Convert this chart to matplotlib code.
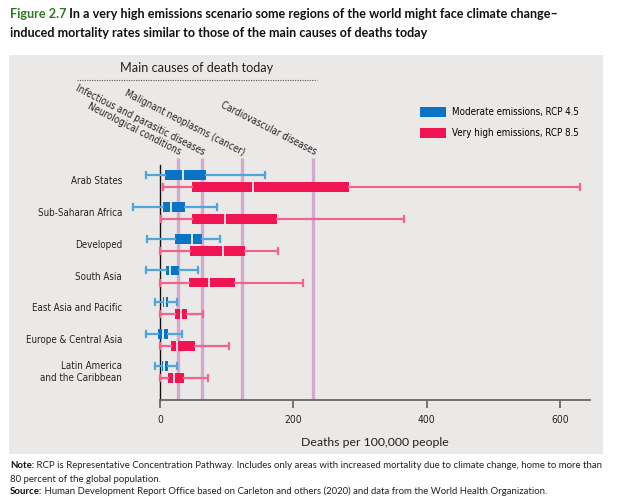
import matplotlib
matplotlib.use("Agg")
import matplotlib.pyplot as plt
from matplotlib import font_manager as fm
from matplotlib.patches import Rectangle, Patch
from matplotlib.lines import Line2D

# ---- data (deaths per 100,000 people) ----
regions = ["Arab States", "Sub-Saharan Africa", "Developed", "South Asia",
           "East Asia and Pacific", "Europe & Central Asia",
           "Latin America\nand the Caribbean"]

rcp45_lo = [-21, -41, -19, -21, -7, -21, -7.5]
rcp45_q1 = [7.5, 4.5, 22.5, 9, 4, -3, 2.5]
rcp45_med = [35, 16.5, 48, 15.5, 8, 4.5, 6.5]
rcp45_q3 = [68.5, 37.5, 63, 28.5, 12.5, 11.5, 11.5]
rcp45_hi = [157.5, 85.5, 90.5, 57, 25, 32.5, 25]

rcp85_lo = [5, 1, 0.5, 0.5, 0.5, 0.5, 0.5]
rcp85_q1 = [48.5, 48.5, 45, 43.5, 22.5, 16.5, 12]
rcp85_med = [140, 97.5, 95, 73, 31, 25.5, 20.5]
rcp85_q3 = [283.5, 175.5, 127.5, 112.5, 40.5, 52.5, 36]
rcp85_hi = [630, 366, 177.5, 214, 65, 103, 71.5]

causes = ["Neurological conditions", "Infectious and parasitic diseases",
          "Malignant neoplasms (cancer)", "Cardiovascular diseases"]
cause_vals = [27.5, 63.5, 123.5, 230]

xticks = [0, 200, 400, 600]

BLUE = "#0a73c5"
BLUE_W = "#4fa5dc"
RED = "#ee1552"
RED_W = "#ef6590"
LINE = "#d3a9cf"
BG = "#ebe9e7"


def narrow_font():
    # look for a condensed / narrow face among installed fonts
    best = None
    for f in fm.fontManager.ttflist:
        nm = f.name.lower()
        cond = ("condensed" in str(f.stretch) or "narrow" in nm
                or "condensed" in nm)
        if not cond or f.style != "normal":
            continue
        if f.weight not in (400, "normal", "regular", "book"):
            continue
        if "extra" in str(f.stretch) or "ultra" in str(f.stretch):
            continue
        best = f.fname
        if "semi" not in str(f.stretch):
            break
    if best:
        return best
    return None


def cprop(size):
    fn = narrow_font()
    if fn:
        return fm.FontProperties(fname=fn, size=size)
    return fm.FontProperties(family="DejaVu Sans", stretch="condensed", size=size)


def make_stats(lo, q1, med, q3, hi):
    out = []
    for i in range(len(lo)):
        out.append({"whislo": lo[i], "q1": q1[i], "med": med[i],
                    "q3": q3[i], "whishi": hi[i], "fliers": []})
    return out


fig = plt.figure(figsize=(6.17, 5.03), dpi=100)
W, H = 617.0, 503.0

fig.add_artist(Rectangle((9 / W, 1 - 454 / H), 594 / W, 399 / H,
                         transform=fig.transFigure, facecolor=BG,
                         edgecolor="none", zorder=-5))

ax = fig.add_axes([120 / W, 1 - 400 / H, 470 / W, 243 / H])
ax.set_facecolor("none")
ax.set_xlim(-60, 645)
ax.set_ylim(6.88, -0.755)

pos = list(range(len(regions)))
off = 0.19

ax.vlines(cause_vals, 6.88, -0.72, color=LINE, lw=2.4, zorder=1)

for stats, shift, col, wcol in [
        (make_stats(rcp45_lo, rcp45_q1, rcp45_med, rcp45_q3, rcp45_hi), -off, BLUE, BLUE_W),
        (make_stats(rcp85_lo, rcp85_q1, rcp85_med, rcp85_q3, rcp85_hi), off, RED, RED_W)]:
    ax.bxp(stats, positions=[p + shift for p in pos], widths=0.31,
           orientation="horizontal", patch_artist=True, manage_ticks=False,
           capwidths=0.19, showfliers=False,
           boxprops=dict(facecolor=col, edgecolor="none"),
           medianprops=dict(color="white", lw=1.2),
           whiskerprops=dict(color=wcol, lw=1.6),
           capprops=dict(color=wcol, lw=1.6),
           zorder=3)

for p, name in zip(pos, regions):
    ax.text(-57, p, name, ha="right", va="center", fontproperties=cprop(7.0),
            color="#222222", linespacing=1.25)

for v, name in zip(cause_vals, causes):
    ax.text(v + 1, -0.80, name, rotation=-27, rotation_mode="anchor",
            ha="right", va="baseline", fontproperties=cprop(7.0),
            color="#222222")

for s in ["top", "right"]:
    ax.spines[s].set_visible(False)
ax.spines["left"].set_position(("data", 0))
ax.spines["left"].set_bounds(6.88, -0.5)
ax.spines["left"].set_color("#111111")
ax.spines["left"].set_linewidth(1.0)
ax.spines["bottom"].set_bounds(0, 645)
ax.spines["bottom"].set_color("#666666")
ax.spines["bottom"].set_linewidth(1.3)
ax.set_yticks([])
ax.set_xticks(xticks)
ax.set_xticklabels([str(t) for t in xticks])
ax.tick_params(axis="x", direction="out", length=6, width=1.1,
               color="#555555", pad=5)
for lab in ax.get_xticklabels():
    lab.set_fontproperties(cprop(7.4))
    lab.set_color("#222222")

fig.text(375 / W, 1 - 442 / H, "Deaths per 100,000 people", ha="center",
         va="center", fontsize=8.8, family="Lato", color="#222222")

fig.text(197 / W, 1 - 68 / H, "Main causes of death today", ha="center",
         va="center", fontsize=9.1, family="Lato", color="#222222")
fig.add_artist(Line2D([77 / W, 317 / W], [1 - 80 / H, 1 - 80 / H],
                      transform=fig.transFigure, color="#555555",
                      lw=0.8, ls=(0, (1, 1.2))))

handles = [Patch(facecolor=BLUE, edgecolor="none", label="Moderate emissions, RCP 4.5"),
           Patch(facecolor=RED, edgecolor="none", label="Very high emissions, RCP 8.5")]
fig.legend(handles=handles, loc="upper left",
           bbox_to_anchor=(420 / W, 1 - 107 / H), frameon=False,
           prop=cprop(7.0),
           handlelength=2.7, handleheight=1.2, labelspacing=1.1,
           handletextpad=0.6, borderaxespad=0, borderpad=0)

# title
t1 = fig.text(10 / W, 1 - 14 / H, "Figure 2.7", ha="left", va="center",
              fontsize=9.1, weight="bold", family="Lato", color="#2f7a1f")
ax.annotate(" In a very high emissions scenario some regions of the world might face climate change\u2013",
            xy=(1, 0), xycoords=t1, ha="left", va="bottom",
            fontsize=9.1, weight="bold", family="Lato", color="#111111")
fig.text(10 / W, 1 - 33 / H,
         "induced mortality rates similar to those of the main causes of deaths today",
         ha="left", va="center", fontsize=9.1, weight="bold", family="Lato",
         color="#111111")

# notes
n1 = fig.text(10 / W, 1 - 466 / H, "Note:", ha="left", va="center",
              fontsize=6.95, weight="bold", family="Lato", color="#111111")
ax.annotate(" RCP is Representative Concentration Pathway. Includes only areas with increased mortality due to climate change, home to more than",
            xy=(1, 0), xycoords=n1, ha="left", va="bottom", fontsize=6.95,
            family="Lato", color="#222222")
fig.text(10 / W, 1 - 479 / H, "80 percent of the global population.",
         ha="left", va="center", fontsize=6.95, family="Lato", color="#222222")
n2 = fig.text(10 / W, 1 - 491 / H, "Source:", ha="left", va="center",
              fontsize=6.95, weight="bold", family="Lato", color="#111111")
ax.annotate(" Human Development Report Office based on Carleton and others (2020) and data from the World Health Organization.",
            xy=(1, 0), xycoords=n2, ha="left", va="bottom", fontsize=6.95,
            family="Lato", color="#222222")

fig.savefig("out.png", dpi=100)
